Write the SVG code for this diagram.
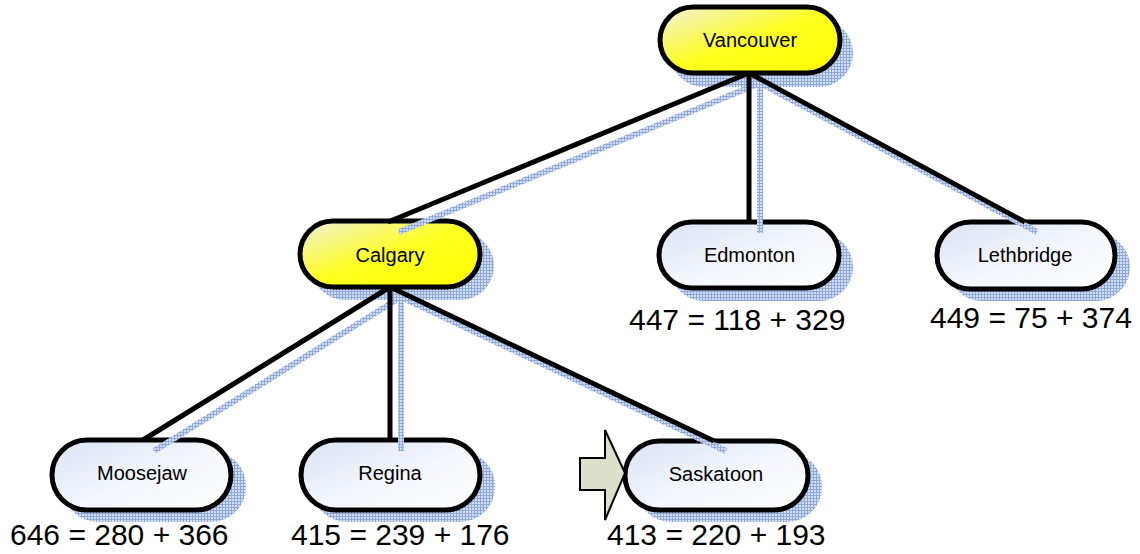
<svg xmlns="http://www.w3.org/2000/svg" width="1140" height="554" viewBox="0 0 1140 554">
  <defs>
    <!-- fine blue cross-hatch used for drop shadows -->
    <pattern id="hatch" width="3" height="3" patternUnits="userSpaceOnUse">
      <rect width="3" height="3" fill="#d3def2"/>
      <rect x="0" y="0" width="3" height="1" fill="#8eaadc"/>
      <rect x="0" y="0" width="1" height="3" fill="#8eaadc"/>
    </pattern>
    <linearGradient id="fillWhite" x1="0" y1="0" x2="1" y2="1">
      <stop offset="0" stop-color="#dbe4f4"/>
      <stop offset="0.55" stop-color="#f4f7fc"/>
      <stop offset="1" stop-color="#ffffff"/>
    </linearGradient>
    <linearGradient id="fillYellow" x1="0" y1="0" x2="1" y2="1">
      <stop offset="0" stop-color="#f1f1dc"/>
      <stop offset="0.5" stop-color="#ffff20"/>
      <stop offset="1" stop-color="#ffff00"/>
    </linearGradient>
    <filter id="soft" x="-10%" y="-10%" width="120%" height="120%">
      <feGaussianBlur stdDeviation="0.6"/>
    </filter>
  </defs>
  <style>
    .shadow { fill: url(#hatch); filter: url(#soft); }
    .node { stroke: #000; stroke-width: 5; }
    .plain { fill: url(#fillWhite); }
    .hot { fill: url(#fillYellow); }
    .name { font-family: "Liberation Sans", Arial, sans-serif; font-size: 20px; fill: #000; text-anchor: middle; }
    .cost { font-family: "Liberation Sans", Arial, sans-serif; font-size: 30px; fill: #000; }
    .edge { stroke: #000; stroke-width: 5; fill: none; }
    .edge-shadow { stroke: url(#hatch); stroke-width: 6; fill: none; }
  </style>

  <!-- nodes -->
  <g id="vancouver">
    <rect class="shadow" x="670" y="19" width="183" height="68" rx="34"/>
    <rect class="node hot" x="660" y="7" width="180" height="66" rx="33"/>
    <text class="name" x="750" y="47">Vancouver</text>
  </g>
  <g id="calgary">
    <rect class="shadow" x="311" y="232" width="183" height="68" rx="34"/>
    <rect class="node hot" x="300" y="221" width="180" height="66" rx="33"/>
    <text class="name" x="390" y="262">Calgary</text>
  </g>
  <g id="edmonton">
    <rect class="shadow" x="670" y="233" width="183" height="68" rx="34"/>
    <rect class="node plain" x="659" y="222" width="180" height="66" rx="33"/>
    <text class="name" x="749.5" y="262">Edmonton</text>
    <text class="cost" x="629" y="330">447 = 118 + 329</text>
  </g>
  <g id="lethbridge">
    <rect class="shadow" x="948" y="233" width="182" height="68" rx="34"/>
    <rect class="node plain" x="937" y="222" width="178" height="67" rx="33.5"/>
    <text class="name" x="1025" y="262">Lethbridge</text>
    <text class="cost" x="930" y="328">449 = 75 + 374</text>
  </g>
  <g id="moosejaw">
    <rect class="shadow" x="63" y="451" width="183" height="71" rx="35"/>
    <rect class="node plain" x="52" y="440" width="179" height="70" rx="35"/>
    <text class="name" x="142" y="480">Moosejaw</text>
    <text class="cost" x="10" y="545">646 = 280 + 366</text>
  </g>
  <g id="regina">
    <rect class="shadow" x="312" y="451" width="183" height="71" rx="35"/>
    <rect class="node plain" x="301" y="440" width="179" height="70" rx="35"/>
    <text class="name" x="390" y="480">Regina</text>
    <text class="cost" x="291" y="545">415 = 239 + 176</text>
  </g>
  <g id="saskatoon">
    <rect class="shadow" x="636" y="452" width="186" height="70" rx="35"/>
    <rect class="node plain" x="625" y="441" width="183" height="69" rx="34.5"/>
    <text class="name" x="716" y="481">Saskatoon</text>
    <text class="cost" x="607" y="545">413 = 220 + 193</text>
  </g>

  <!-- connectors -->
  <g id="connectors">
    <g class="edge-shadow">
      <line x1="760" y1="83" x2="399" y2="232"/>
      <line x1="760" y1="83" x2="760" y2="233"/>
      <line x1="760" y1="83" x2="1037" y2="232"/>
      <line x1="401" y1="297" x2="154" y2="451"/>
      <line x1="401" y1="297" x2="401" y2="451"/>
      <line x1="401" y1="297" x2="726" y2="451"/>
    </g>
    <g class="edge">
      <line x1="749" y1="73" x2="388" y2="222"/>
      <line x1="749" y1="73" x2="749" y2="222"/>
      <line x1="749" y1="73" x2="1025" y2="222"/>
      <line x1="390" y1="287" x2="143" y2="440"/>
      <line x1="390" y1="287" x2="390" y2="440"/>
      <line x1="390" y1="287" x2="714" y2="441"/>
    </g>
  </g>

  <!-- current-position marker pointing at Saskatoon -->
  <polygon points="580,458 605,458 605,430 625,473 605,520 605,490 580,490" fill="#dcdfc9" stroke="#000" stroke-width="2" stroke-linejoin="miter"/>
</svg>
